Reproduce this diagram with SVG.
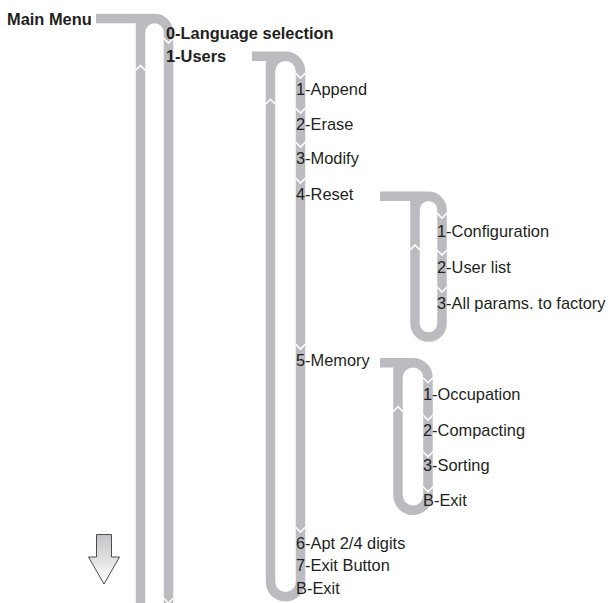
<svg xmlns="http://www.w3.org/2000/svg" width="612" height="603" viewBox="0 0 612 603">
<style>
.bar{fill:none;stroke:#bcbcc0;stroke-width:9.5;stroke-linecap:butt}
.chev{fill:none;stroke:#ffffff;stroke-width:1.6}
text{font-family:"Liberation Sans",Arial,sans-serif;font-size:16.4px;fill:#231f20}
.b{font-weight:bold}
</style>
<defs>
<linearGradient id="ag" x1="0" y1="0" x2="0" y2="1">
<stop offset="0" stop-color="#c4c4c6"/>
<stop offset="1" stop-color="#ffffff"/>
</linearGradient>
</defs>
<g id="connectors">
<path class="bar" d="M96,18.5H154.5 M140.5,40V18.5 M140.5,610V32.5A14,14 0 0 1 168.5,32.5V610"/>
<path class="bar" d="M252,56.2H285.5 M270.5,75V56.2 M270.5,581.75V71.2A15,15 0 0 1 300.5,71.2V581.75A15,15 0 0 1 270.5,581.75"/>
<path class="bar" d="M380,196.3H428.5 M415,215V196.3 M415,323.5V209.8A13.5,13.5 0 0 1 442,209.8V323.5A13.5,13.5 0 0 1 415,323.5"/>
<path class="bar" d="M380,362.8H413 M398,380V362.8 M398,495.25V377.8A15,15 0 0 1 428,377.8V495.25A15,15 0 0 1 398,495.25"/>
<g class="chev">
<polyline points="163.5,38 168.5,43 173.5,38"/>
<polyline points="163.5,598 168.5,603 173.5,598"/>
<polyline points="135.5,70.5 140.5,65.5 145.5,70.5"/>
<polyline points="295.5,73 300.5,78 305.5,73"/>
<polyline points="295.5,108 300.5,113 305.5,108"/>
<polyline points="295.5,142 300.5,147 305.5,142"/>
<polyline points="295.5,178 300.5,183 305.5,178"/>
<polyline points="295.5,344 300.5,349 305.5,344"/>
<polyline points="295.5,527 300.5,532 305.5,527"/>
<polyline points="265.5,104.3 270.5,99.3 275.5,104.3"/>
<polyline points="437,213 442,218 447,213"/>
<polyline points="437,250 442,255 447,250"/>
<polyline points="437,287 442,292 447,287"/>
<polyline points="410,250 415,245 420,250"/>
<polyline points="423,377.7 428,382.7 433,377.7"/>
<polyline points="423,415 428,420 433,415"/>
<polyline points="423,451.7 428,456.7 433,451.7"/>
<polyline points="423,486.7 428,491.7 433,486.7"/>
<polyline points="393,411.7 398,406.7 403,411.7"/>
</g>
</g>
<g id="scroll-arrow">
<polygon points="96.5,534.5 111.5,534.5 111.5,557 119.5,557 104,584 88.5,557 96.5,557" fill="url(#ag)" stroke="#4d4d4d" stroke-width="1"/>
</g>
<g id="main-menu"><text class="b" x="7" y="25">Main Menu</text></g>
<g id="language"><text class="b" x="166" y="39">0-Language selection</text></g>
<g id="users"><text class="b" x="166" y="62">1-Users</text></g>
<g id="append"><text x="296" y="95">1-Append</text></g>
<g id="erase"><text x="296" y="130">2-Erase</text></g>
<g id="modify"><text x="296" y="164">3-Modify</text></g>
<g id="reset"><text x="296" y="200">4-Reset</text></g>
<g id="configuration"><text x="437" y="237">1-Configuration</text></g>
<g id="user-list"><text x="437" y="273">2-User list</text></g>
<g id="factory"><text x="437" y="309">3-All params. to factory</text></g>
<g id="memory"><text x="296" y="366">5-Memory</text></g>
<g id="occupation"><text x="423" y="400">1-Occupation</text></g>
<g id="compacting"><text x="423" y="436">2-Compacting</text></g>
<g id="sorting"><text x="423" y="471">3-Sorting</text></g>
<g id="memory-exit"><text x="423" y="506">B-Exit</text></g>
<g id="apt-digits"><text x="296" y="549">6-Apt 2/4 digits</text></g>
<g id="exit-button"><text x="296" y="571">7-Exit Button</text></g>
<g id="users-exit"><text x="296" y="594">B-Exit</text></g>
</svg>
